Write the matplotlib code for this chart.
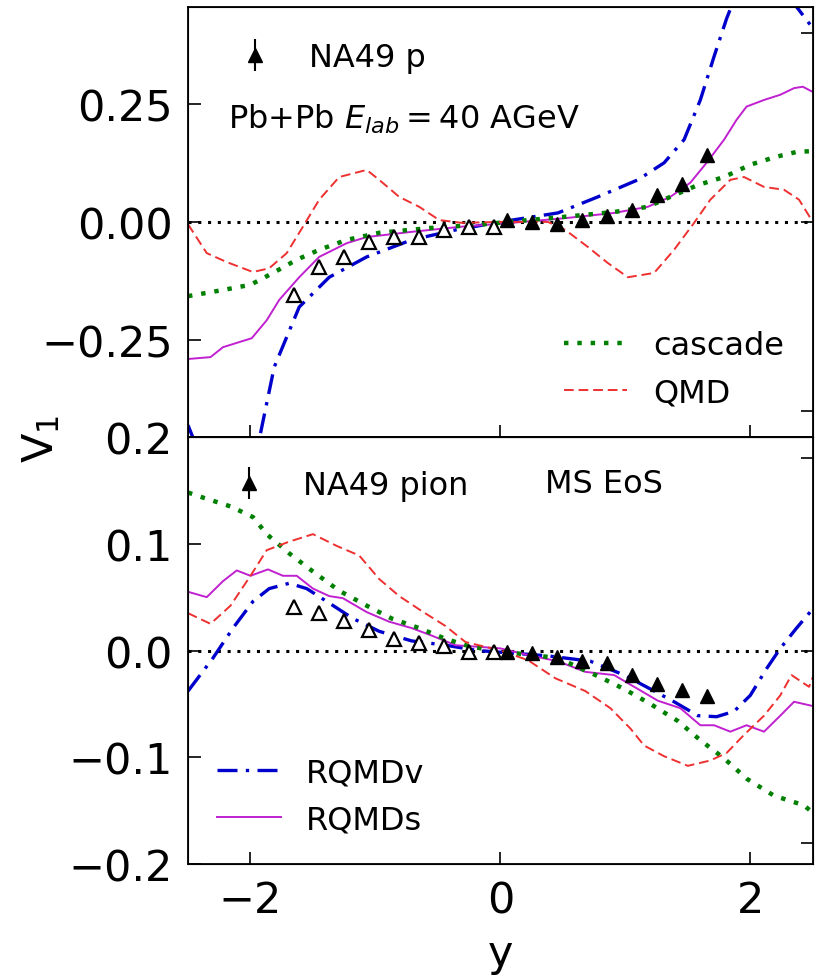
import matplotlib
matplotlib.use("Agg")
import matplotlib.pyplot as plt

# ---- data ----
# top panel: protons
p_v_x = [-2.5, -2.44, -2.3, -2.1, -1.93, -1.81, -1.61, -1.37, -1.07, -0.71, -0.36, 0.0, 0.46, 0.78,
         1.10, 1.31, 1.47, 1.60, 1.71, 1.81, 1.9, 2.1, 2.37, 2.5]
p_v_y = [-0.43, -0.47, -0.56, -0.58, -0.46, -0.307, -0.18, -0.117, -0.074, -0.038, -0.017, 0.0, 0.019,
         0.053, 0.089, 0.125, 0.174, 0.258, 0.35, 0.43, 0.49, 0.56, 0.455, 0.41]
p_s_x = [-2.5, -2.32, -2.22, -1.99, -1.87, -1.77, -1.61, -1.45, -1.23, -1.07, -0.71, -0.31, 0.0, 0.52,
         0.91, 1.18, 1.36, 1.52, 1.65, 1.79, 1.89, 1.97, 2.11, 2.24, 2.35, 2.42, 2.5]
p_s_y = [-0.29, -0.286, -0.265, -0.246, -0.208, -0.165, -0.117, -0.074, -0.045, -0.032, -0.021, -0.01,
         -0.004, 0.008, 0.019, 0.032, 0.053, 0.083, 0.125, 0.174, 0.216, 0.244, 0.258, 0.269, 0.283,
         0.286, 0.275]
p_c_x = [-2.5, -2.22, -2.0, -1.82, -1.63, -1.45, -1.23, -0.97, -0.57, -0.18, 0.52, 0.91, 1.18, 1.36,
         1.58, 1.79, 2.0, 2.21, 2.37, 2.5]
p_c_y = [-0.157, -0.144, -0.133, -0.108, -0.08, -0.059, -0.038, -0.023, -0.013, -0.006, 0.011, 0.021,
         0.032, 0.053, 0.078, 0.095, 0.121, 0.138, 0.148, 0.15]
p_q_x = [-2.5, -2.35, -2.19, -1.98, -1.85, -1.71, -1.58, -1.45, -1.29, -1.07, -0.97, -0.81, -0.65,
         -0.49, -0.31, 0.0, 0.38, 0.52, 0.70, 0.86, 1.02, 1.23, 1.39, 1.55, 1.68, 1.84, 1.95, 2.11,
         2.27, 2.39, 2.5]
p_q_y = [-0.005, -0.066, -0.085, -0.106, -0.098, -0.066, -0.01, 0.047, 0.095, 0.11, 0.089, 0.053,
         0.032, 0.004, -0.002, 0.0, 0.0, -0.017, -0.053, -0.087, -0.117, -0.108, -0.059, -0.002,
         0.047, 0.089, 0.095, 0.074, 0.068, 0.047, 0.0]

# NA49 points (filled: measured, open: reflected)
na_x_pos = [0.05, 0.25, 0.45, 0.65, 0.85, 1.05, 1.25, 1.45, 1.65]
na_x_neg = [-1.65, -1.45, -1.25, -1.05, -0.85, -0.65, -0.45, -0.25, -0.05]
na_p_pos = [0.005, 0.0, -0.005, 0.005, 0.012, 0.026, 0.057, 0.08, 0.142]
na_p_neg = [-0.155, -0.095, -0.074, -0.042, -0.032, -0.032, -0.017, -0.01, -0.01]
na_pi_pos = [-0.001, -0.002, -0.006, -0.010, -0.012, -0.023, -0.031, -0.037, -0.043]
na_pi_neg = [0.041, 0.035, 0.028, 0.019, 0.011, 0.007, 0.004, -0.001, -0.001]

# bottom panel: pions
pi_v_x = [-2.5, -2.30, -2.14, -1.98, -1.85, -1.69, -1.55, -1.39, -1.18, -0.97, -0.71, -0.44, -0.18,
          0.38, 0.72, 0.99, 1.20, 1.39, 1.58, 1.73, 1.87, 2.0, 2.13, 2.24, 2.37, 2.5]
pi_v_y = [-0.038, -0.007, 0.021, 0.046, 0.058, 0.063, 0.058, 0.046, 0.030, 0.018, 0.009, 0.005, 0.0,
          -0.005, -0.01, -0.023, -0.036, -0.048, -0.061, -0.062, -0.057, -0.042, -0.017, 0.002, 0.021,
          0.039]
pi_s_x = [-2.5, -2.35, -2.22, -2.11, -2.0, -1.86, -1.74, -1.63, -1.50, -1.37, -1.26, -1.07, -0.89,
          -0.71, -0.55, -0.36, 0.0, 0.25, 0.46, 0.68, 0.91, 1.10, 1.26, 1.44, 1.60, 1.71, 1.84, 1.97,
          2.11, 2.24, 2.35, 2.5]
pi_s_y = [0.055, 0.050, 0.065, 0.075, 0.070, 0.076, 0.070, 0.070, 0.058, 0.051, 0.049, 0.036, 0.027,
          0.021, 0.014, 0.005, 0.002, -0.005, -0.01, -0.02, -0.023, -0.036, -0.047, -0.054, -0.07,
          -0.07, -0.076, -0.07, -0.076, -0.061, -0.048, -0.052]
pi_c_x = [-2.5, -2.40, -2.16, -1.98, -1.87, -1.69, -1.50, -1.29, -1.07, -0.87, -0.65, -0.44, -0.25,
          0.0, 0.46, 0.78, 0.99, 1.20, 1.42, 1.60, 1.79, 1.97, 2.19, 2.43, 2.5]
pi_c_y = [0.148, 0.144, 0.135, 0.125, 0.109, 0.091, 0.074, 0.056, 0.042, 0.030, 0.021, 0.011, 0.004,
          -0.001, -0.007, -0.024, -0.036, -0.05, -0.066, -0.084, -0.101, -0.12, -0.136, -0.145, -0.152]
pi_q_x = [-2.5, -2.32, -2.16, -2.0, -1.87, -1.69, -1.50, -1.31, -1.13, -0.97, -0.81, -0.63, -0.44,
          -0.28, 0.0, 0.22, 0.44, 0.68, 0.88, 1.04, 1.15, 1.31, 1.50, 1.68, 1.81, 1.95, 2.11, 2.24,
          2.33, 2.47, 2.5]
pi_q_y = [0.035, 0.025, 0.042, 0.070, 0.094, 0.102, 0.109, 0.098, 0.089, 0.067, 0.051, 0.037, 0.023,
          0.008, 0.0, -0.009, -0.026, -0.038, -0.054, -0.073, -0.089, -0.099, -0.108, -0.103, -0.096,
          -0.079, -0.061, -0.042, -0.023, -0.034, -0.025]

BLUE, MAG, GREEN, RED = "#0000cc", "#c020d0", "#008000", "#ee3030"
FS_TICK, FS_LEG = 31, 23

fig = plt.figure(figsize=(8.21, 9.79), dpi=100)
ax1 = fig.add_axes([0.229, 0.5526, 0.761, 0.4394])
ax2 = fig.add_axes([0.229, 0.1164, 0.761, 0.4362], sharex=ax1)


def curves(ax, vx, vy, sx, sy, cx, cy, qx, qy):
    hv, = ax.plot(vx, vy, color=BLUE, ls=(0, (6, 2.5, 1, 2.5)), lw=2.4, label="RQMDv")
    hs, = ax.plot(sx, sy, color=MAG, lw=1.4, label="RQMDs")
    hc, = ax.plot(cx, cy, color=GREEN, ls=(0, (1, 2.0)), lw=3.2, label="cascade")
    hq, = ax.plot(qx, qy, color=RED, ls=(0, (5, 2.5)), lw=1.4, label="QMD")
    return hv, hs, hc, hq


def points(ax, ypos, yneg, lab):
    ax.errorbar(na_x_neg, yneg, yerr=0.003, fmt="^", ms=10, mfc="white", mec="black", mew=1.6,
                ecolor="black", elinewidth=1.5, zorder=5)
    h = ax.errorbar(na_x_pos, ypos, yerr=0.003, fmt="^", ms=10, color="black", ecolor="black",
                    elinewidth=1.5, zorder=5, label=lab)
    return h


hv, hs, hc, hq = curves(ax1, p_v_x, p_v_y, p_s_x, p_s_y, p_c_x, p_c_y, p_q_x, p_q_y)
hp = points(ax1, na_p_pos, na_p_neg, "NA49 p")
curves(ax2, pi_v_x, pi_v_y, pi_s_x, pi_s_y, pi_c_x, pi_c_y, pi_q_x, pi_q_y)
hpi = points(ax2, na_pi_pos, na_pi_neg, "NA49 pion")

for ax in (ax1, ax2):
    ax.axhline(0, color="black", ls=(0, (1, 2.2)), lw=2.2, zorder=1)
    ax.set_xlim(-2.5, 2.5)
    ax.tick_params(direction="in", length=9, width=1.2, labelsize=FS_TICK, pad=11)
    for s in ax.spines.values():
        s.set_linewidth(1.3)

ax1.set_ylim(-0.455, 0.455)
ax1.set_yticks([-0.25, 0.0, 0.25])
ax1.tick_params(labelbottom=False)
ax2.set_ylim(-0.2, 0.2)
ax2.set_yticks([-0.2, -0.1, 0.0, 0.1, 0.2])
ax2.set_xticks([-2, 0, 2])

# right-hand ticks
for ax, lim, tks in ((ax1, 0.455, [-0.4, 0.0, 0.4]), (ax2, 0.2, [-0.18, 0.0, 0.18])):
    tw = ax.twinx()
    tw.set_ylim(-lim, lim)
    tw.set_yticks(tks)
    tw.tick_params(direction="in", length=9, width=1.2, labelright=False)

leg = ax1.legend([hp], ["NA49 p"], loc="upper left", frameon=False, fontsize=FS_LEG,
                 bbox_to_anchor=(0.01, 0.985), handletextpad=0.7)
ax1.add_artist(leg)
ax1.legend([hc, hq], ["cascade", "QMD"], loc="lower right", frameon=False, fontsize=FS_LEG,
           bbox_to_anchor=(1.0, 0.0), handlelength=2.0, handletextpad=0.8, labelspacing=0.5)
ax1.text(0.064, 0.74, r"Pb+Pb $E_{lab} = 40$ AGeV", transform=ax1.transAxes, fontsize=FS_LEG,
         va="center", ha="left")

leg2 = ax2.legend([hpi], ["NA49 pion"], loc="upper left", frameon=False, fontsize=FS_LEG,
                  bbox_to_anchor=(0.0, 0.99), handletextpad=0.7)
ax2.add_artist(leg2)
ax2.legend([hv, hs], ["RQMDv", "RQMDs"], loc="lower left", frameon=False, fontsize=FS_LEG,
           bbox_to_anchor=(0.0, 0.0), handlelength=2.0, handletextpad=0.8, labelspacing=0.5)
ax2.text(0.571, 0.89, "MS EoS", transform=ax2.transAxes, fontsize=FS_LEG, va="center", ha="left")

ax2.set_xlabel("y", fontsize=FS_TICK, labelpad=8)
fig.text(0.05, 0.552, "V$_1$", fontsize=FS_TICK, rotation=90, va="center", ha="center")

fig.savefig("out.png", dpi=100)
